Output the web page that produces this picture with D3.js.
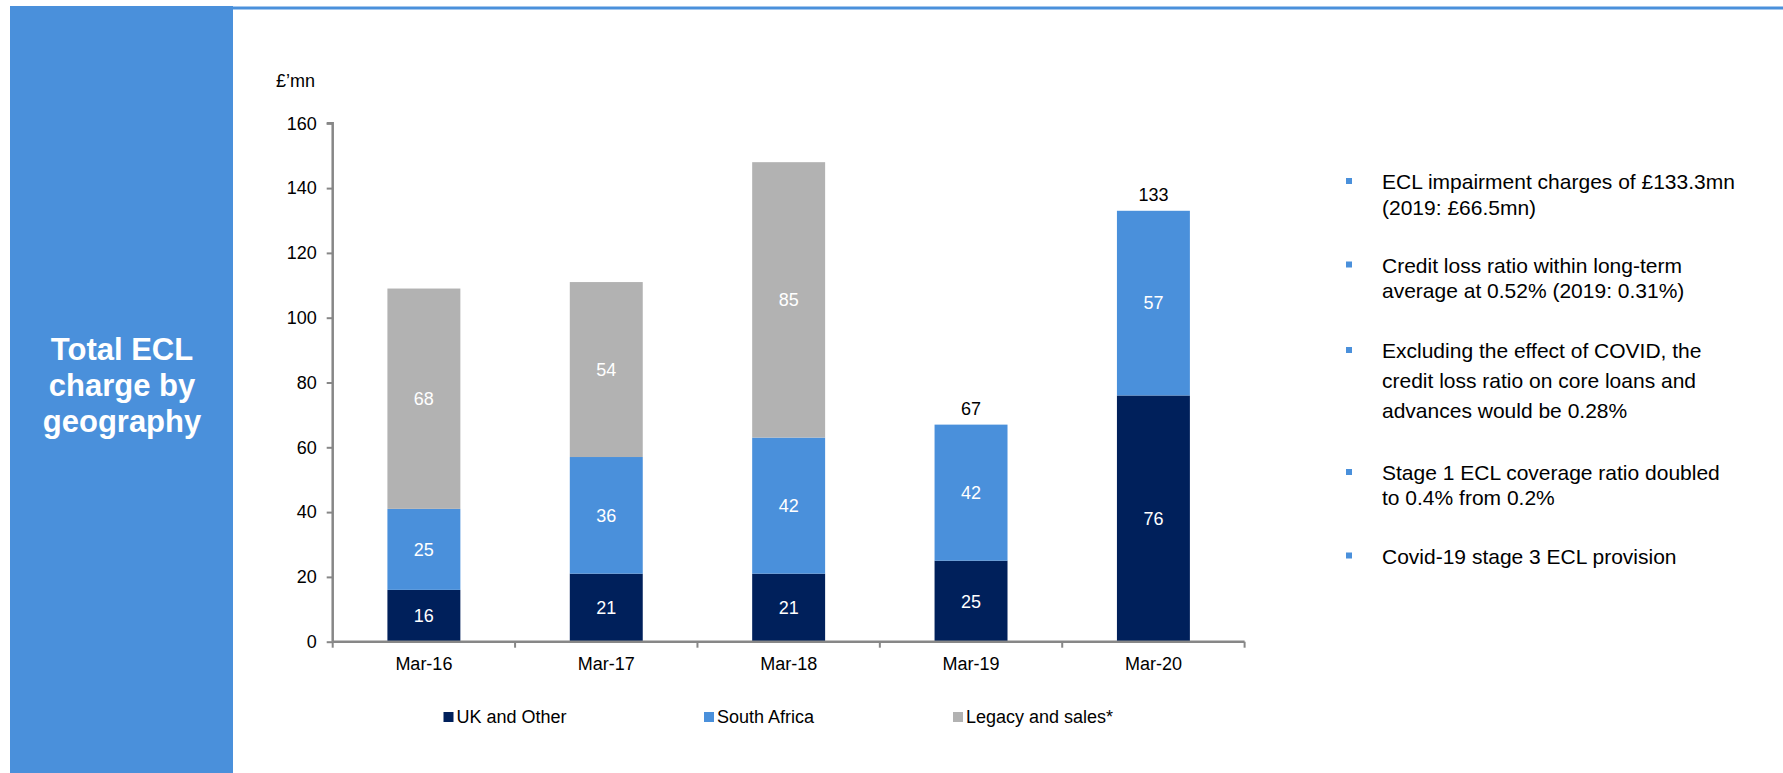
<!DOCTYPE html>
<html>
<head>
<meta charset="utf-8">
<script src="https://cdn.jsdelivr.net/npm/d3@7"></script>
<style>
  html, body { margin: 0; padding: 0; background: #fff; }
  svg { display: block; font-family: "Liberation Sans", Arial, sans-serif; }
</style>
</head>
<body>
<svg id="chart" width="1783" height="773"></svg>
<script>
// chart data
const categories = ["Mar-16", "Mar-17", "Mar-18", "Mar-19", "Mar-20"];
const ukOther = [16, 21, 21, 25, 76];
const southAfrica = [25, 36, 42, 42, 57];
const legacy = [68, 54, 85, 0, 0];
const totalLabels = [null, null, null, 67, 133];
const yTicks = [0, 20, 40, 60, 80, 100, 120, 140, 160];

const seriesNames = ["UK and Other", "South Africa", "Legacy and sales*"];
const seriesColors = ["#00205b", "#4a90db", "#b2b2b2"];

const bullets = [
    ["ECL impairment charges of £133.3mn", "(2019: £66.5mn)"],
    ["Credit loss ratio within long-term", "average at 0.52% (2019: 0.31%)"],
    ["Excluding the effect of COVID, the", "credit loss ratio on core loans and", "advances would be 0.28%"],
    ["Stage 1 ECL coverage ratio doubled", "to 0.4% from 0.2%"],
    ["Covid-19 stage 3 ECL provision"]
];

const svg = d3.select("#chart");
const blue = "#4a90db";

// left title panel + top rule
svg.append("rect")
    .attr("x", 10).attr("y", 6)
    .attr("width", 223).attr("height", 780)
    .attr("fill", blue);

svg.append("line")
    .attr("x1", 233).attr("x2", 1783)
    .attr("y1", 8).attr("y2", 8)
    .attr("stroke", blue).attr("stroke-width", 3);

const title = svg.append("text")
    .attr("x", 122).attr("y", 360)
    .attr("text-anchor", "middle")
    .attr("fill", "#fff")
    .attr("font-size", 31)
    .attr("font-weight", "bold");
["Total ECL", "charge by", "geography"].forEach((t, i) => {
    title.append("tspan").attr("x", 122).attr("dy", i === 0 ? 0 : 36).text(t);
});

// scales
const x = d3.scaleBand()
    .domain(categories)
    .range([332.7, 1244.6])
    .padding(0);

const y = d3.scaleLinear()
    .domain([0, 160])
    .range([641.7, 123.3]);

const barW = x.bandwidth() * 0.4;
const axisColor = "#878787";

// stacked data
const rows = categories.map((c, i) => ({
    cat: c,
    uk: ukOther[i],
    sa: southAfrica[i],
    legacy: legacy[i]
}));
const stack = d3.stack().keys(["uk", "sa", "legacy"])(rows);

const g = svg.append("g");

stack.forEach((layer, li) => {
    const layerG = g.append("g");
    layerG.selectAll("rect")
        .data(layer.filter(d => d[1] - d[0] > 0))
        .join("rect")
        .attr("x", d => x(d.data.cat) + (x.bandwidth() - barW) / 2)
        .attr("width", barW)
        .attr("y", d => y(d[1]))
        .attr("height", d => y(d[0]) - y(d[1]))
        .attr("fill", seriesColors[li]);

    layerG.selectAll("text")
        .data(layer.filter(d => d[1] - d[0] > 0))
        .join("text")
        .attr("x", d => x(d.data.cat) + x.bandwidth() / 2)
        .attr("y", d => y((d[0] + d[1]) / 2))
        .attr("dy", "0.35em")
        .attr("text-anchor", "middle")
        .attr("fill", "#fff")
        .attr("font-size", 18)
        .text(d => d[1] - d[0]);
});

// total labels above bars
g.append("g").selectAll("text")
    .data(categories.map((c, i) => ({ cat: c, total: totalLabels[i] })).filter(d => d.total !== null))
    .join("text")
    .attr("x", d => x(d.cat) + x.bandwidth() / 2)
    .attr("y", d => y(d.total) - 10)
    .attr("text-anchor", "middle")
    .attr("fill", "#000")
    .attr("font-size", 18)
    .text(d => d.total);

// y axis
const yAxis = svg.append("g")
    .attr("transform", `translate(${x.range()[0]},0)`)
    .call(d3.axisLeft(y).tickValues(yTicks).tickSize(6).tickPadding(10));
yAxis.selectAll("text").attr("font-size", 18).attr("fill", "#000").attr("font-family", null);
yAxis.selectAll("line").attr("stroke", axisColor).attr("stroke-width", 2);
yAxis.select(".domain").attr("stroke", axisColor).attr("stroke-width", 2.5)
    .attr("d", `M-6,${y(160)}H0V${y(0)}`);

svg.append("text")
    .attr("x", 276).attr("y", 87)
    .attr("font-size", 18)
    .attr("fill", "#000")
    .text("£’mn");

// x axis, ticks between categories
const xAxisG = svg.append("g");
xAxisG.append("line")
    .attr("x1", x.range()[0]).attr("x2", x.range()[1])
    .attr("y1", y(0)).attr("y2", y(0))
    .attr("stroke", axisColor).attr("stroke-width", 2.5);
xAxisG.selectAll("line.tick")
    .data(categories.map(c => x(c)).concat([x.range()[1]]))
    .join("line")
    .attr("class", "tick")
    .attr("x1", d => d).attr("x2", d => d)
    .attr("y1", y(0)).attr("y2", y(0) + 6)
    .attr("stroke", axisColor).attr("stroke-width", 2);
xAxisG.selectAll("text")
    .data(categories)
    .join("text")
    .attr("x", d => x(d) + x.bandwidth() / 2)
    .attr("y", 670)
    .attr("text-anchor", "middle")
    .attr("font-size", 18)
    .attr("fill", "#000")
    .text(d => d);

// legend
const legendX = [443.5, 704, 953];
const legend = svg.append("g").selectAll("g")
    .data(seriesNames)
    .join("g")
    .attr("transform", (d, i) => `translate(${legendX[i]},712)`);
legend.append("rect")
    .attr("width", 10).attr("height", 10)
    .attr("fill", (d, i) => seriesColors[i]);
legend.append("text")
    .attr("x", 13).attr("y", 10.5)
    .attr("font-size", 18)
    .attr("fill", "#000")
    .text(d => d);

// commentary bullets
const bulletTop = [189, 272.5, 358, 480, 563.5];
const lineGap = [26, 25, 30, 24.5, 25];
const notes = svg.append("g").selectAll("g")
    .data(bullets)
    .join("g");
notes.append("rect")
    .attr("x", 1346)
    .attr("y", (d, i) => bulletTop[i] - 11)
    .attr("width", 6).attr("height", 6)
    .attr("fill", blue);
notes.append("text")
    .attr("font-size", 21)
    .attr("fill", "#000")
    .each(function (d, i) {
        const t = d3.select(this);
        d.forEach((line, j) => {
            t.append("tspan")
                .attr("x", 1382)
                .attr("y", bulletTop[i] + j * lineGap[i])
                .text(line);
        });
    });
</script>
</body>
</html>
